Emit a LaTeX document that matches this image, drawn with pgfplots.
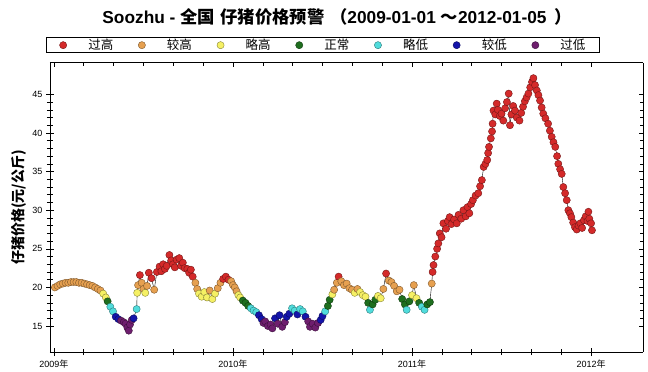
\documentclass[border=0pt]{standalone}
\usepackage{fontspec}
\setmainfont{Liberation Sans}
\newfontfamily\cjk{Noto Sans CJK SC}
\usepackage{pgfplots}
\usepackage{pgfplotstable}
\pgfplotsset{compat=1.18}
\definecolor{cA}{HTML}{D42A2A}
\definecolor{cB}{HTML}{E6A050}
\definecolor{cC}{HTML}{F5F064}
\definecolor{cD}{HTML}{1E6E1E}
\definecolor{cE}{HTML}{50DCDC}
\definecolor{cF}{HTML}{1414AA}
\definecolor{cG}{HTML}{6E1E6E}
\pgfplotstableread{
x y c
2009.005 20.0 b
2009.02 20.2 b
2009.035 20.4 b
2009.05 20.5 b
2009.065 20.6 b
2009.08 20.6 b
2009.095 20.7 b
2009.11 20.7 b
2009.125 20.7 b
2009.14 20.6 b
2009.155 20.6 b
2009.17 20.5 b
2009.185 20.4 b
2009.20 20.3 b
2009.215 20.2 b
2009.23 20.0 b
2009.245 19.8 b
2009.26 19.6 b
2009.275 19.2 c
2009.29 18.7 c
2009.30 18.2 d
2009.315 17.5 e
2009.33 16.9 e
2009.345 16.2 f
2009.36 15.9 f
2009.375 15.7 g
2009.39 15.5 g
2009.40 15.3 g
2009.41 14.8 g
2009.418 14.4 g
2009.425 15.2 g
2009.435 15.8 g
2009.445 16.0 f
2009.462 17.2 e
2009.465 19.3 c
2009.47 20.3 b
2009.48 21.6 a
2009.49 20.6 b
2009.50 19.8 b
2009.51 19.3 c
2009.52 20.2 b
2009.53 21.9 a
2009.545 21.2 a
2009.56 19.7 b
2009.575 22.0 a
2009.59 22.7 a
2009.60 22.1 a
2009.61 23.0 a
2009.62 22.4 a
2009.63 22.8 a
2009.645 24.2 a
2009.655 23.5 a
2009.665 23.0 a
2009.675 22.6 a
2009.685 23.6 a
2009.70 23.8 a
2009.71 22.8 a
2009.72 23.2 a
2009.73 22.5 a
2009.745 22.4 a
2009.755 21.9 a
2009.765 22.3 a
2009.775 21.4 a
2009.79 20.6 b
2009.80 19.8 b
2009.81 19.2 c
2009.825 18.8 c
2009.84 19.4 c
2009.855 18.7 c
2009.87 19.6 b
2009.885 18.5 c
2009.90 19.2 c
2009.915 19.9 b
2009.93 20.6 b
2009.945 21.1 a
2009.96 21.4 a
2009.975 21.0 a
2009.99 20.8 b
2010.0 20.3 b
2010.01 20.0 b
2010.02 19.5 b
2010.03 19.0 c
2010.04 18.7 c
2010.055 18.3 d
2010.07 18.0 d
2010.085 17.6 d
2010.10 17.3 e
2010.115 17.0 e
2010.13 16.8 e
2010.145 16.4 f
2010.16 15.9 f
2010.17 15.4 g
2010.18 15.6 g
2010.195 15.0 g
2010.21 15.2 g
2010.22 14.7 g
2010.235 16.0 f
2010.25 15.3 g
2010.26 16.4 f
2010.275 14.9 g
2010.29 15.5 g
2010.30 16.2 f
2010.315 16.6 f
2010.33 17.3 e
2010.345 17.0 e
2010.36 16.5 f
2010.375 17.2 e
2010.39 16.9 e
2010.405 16.2 f
2010.42 15.6 g
2010.43 14.9 g
2010.445 15.3 g
2010.46 14.8 g
2010.475 15.4 g
2010.49 15.8 f
2010.50 16.3 f
2010.515 16.9 e
2010.53 17.6 d
2010.54 18.4 d
2010.555 19.1 c
2010.565 19.7 b
2010.58 20.6 b
2010.59 21.4 a
2010.605 20.8 b
2010.62 20.3 b
2010.635 20.5 b
2010.65 19.9 b
2010.665 19.7 b
2010.68 19.3 c
2010.695 19.8 b
2010.71 19.4 c
2010.725 19.0 c
2010.74 18.8 c
2010.755 18.0 d
2010.765 17.1 e
2010.78 17.8 d
2010.795 18.4 d
2010.81 18.9 c
2010.825 18.6 c
2010.84 19.8 b
2010.855 21.8 a
2010.87 20.9 b
2010.885 20.7 b
2010.90 20.2 b
2010.915 19.5 b
2010.93 19.7 b
2010.945 18.5 d
2010.96 17.8 d
2010.97 17.1 e
2010.985 18.2 d
2011.0 19.0 c
2011.01 20.3 b
2011.025 18.6 c
2011.04 18.0 d
2011.055 17.5 e
2011.07 17.1 e
2011.085 17.8 d
2011.10 18.1 d
2011.11 20.5 b
2011.115 22.0 a
2011.12 22.9 a
2011.13 24.0 a
2011.14 25.0 a
2011.147 25.7 a
2011.155 27.0 a
2011.165 26.5 a
2011.175 28.3 a
2011.19 27.6 a
2011.20 28.6 a
2011.21 29.1 a
2011.22 28.2 a
2011.235 28.8 a
2011.25 28.3 a
2011.26 29.4 a
2011.275 28.9 a
2011.287 30.0 a
2011.30 29.2 a
2011.31 30.4 a
2011.32 29.6 a
2011.33 30.8 a
2011.34 31.3 a
2011.355 31.9 a
2011.37 32.2 a
2011.38 33.1 a
2011.39 33.9 a
2011.40 35.6 a
2011.41 36.0 a
2011.42 36.5 a
2011.425 37.4 a
2011.43 38.2 a
2011.44 39.3 a
2011.447 40.2 a
2011.45 41.2 a
2011.455 42.9 a
2011.465 42.4 a
2011.473 43.8 a
2011.48 43.0 a
2011.49 42.2 a
2011.50 42.5 a
2011.51 41.6 a
2011.52 43.2 a
2011.53 44.0 a
2011.54 45.1 a
2011.547 41.0 a
2011.555 42.4 a
2011.565 43.5 a
2011.575 42.9 a
2011.585 42.0 a
2011.60 41.6 a
2011.61 42.6 a
2011.62 43.4 a
2011.63 44.1 a
2011.64 44.6 a
2011.65 45.1 a
2011.66 45.9 a
2011.67 46.6 a
2011.678 47.1 a
2011.687 46.2 a
2011.697 45.5 a
2011.706 44.9 a
2011.715 44.2 a
2011.724 43.3 a
2011.733 42.5 a
2011.745 41.9 a
2011.76 41.2 a
2011.77 40.3 a
2011.78 39.5 a
2011.79 38.8 a
2011.80 38.2 a
2011.81 37.0 a
2011.817 36.0 a
2011.827 35.3 a
2011.836 34.7 a
2011.845 33.0 a
2011.855 32.2 a
2011.864 31.3 a
2011.873 30.0 a
2011.882 29.6 a
2011.89 29.1 a
2011.90 28.4 a
2011.91 27.8 a
2011.92 27.5 a
2011.93 28.0 a
2011.94 28.3 a
2011.95 27.7 a
2011.96 28.7 a
2011.97 29.2 a
2011.98 28.6 a
2011.985 29.8 a
2011.99 28.9 a
2012.00 28.3 a
2012.005 27.4 a
}\pricedata
\begin{document}
\begin{tikzpicture}[x=1pt,y=1pt]
\path[use as bounding box] (-50,-20) rectangle (598,352);
\begin{axis}[
  at={(0pt,0pt)}, anchor=south west,
  scale only axis, width=593pt, height=289.3pt,
  xmin=2008.978, xmax=2012.29, ymin=11.64, ymax=49.1,
  axis x line*=bottom, axis y line*=left,
  axis line style={-, line width=0.8pt},
  tick align=center,
  major tick length=8pt, minor tick length=6pt,
  every tick/.style={black, line width=0.6pt},
  xtick={2009,2010,2011,2012},
  xticklabels={2009{\cjk 年},2010{\cjk 年},2011{\cjk 年},2012{\cjk 年}},
  minor x tick num=5,
  ytick={15,20,25,30,35,40,45},
  minor y tick num=4,
  /pgf/number format/assume math mode=true,
  ticklabel style={font=\fontsize{9}{10}\selectfont},
  ylabel={\cjk\bfseries 仔猪价格(元/公斤)},
  ylabel style={at={(axis description cs:-0.0530,0.5)}, anchor=center, font=\fontsize{14}{15}\selectfont},
  legend columns=7,
  legend style={at={(0.4604,1.0335)}, anchor=south, draw=black, line width=0.6pt,
    inner xsep=13pt, inner ysep=0.5pt,
    font=\cjk\fontsize{12.5}{13}\selectfont,
    nodes={inner sep=1pt},
    /tikz/every odd column/.append style={column sep=20.5pt},
    /tikz/every even column/.append style={column sep=24pt}},
]
\addplot[forget plot, black, line width=0.4pt, no markers] table[x=x,y=y] {\pricedata};
\addplot[scatter, only marks, mark=*, mark size=3.6pt,
  scatter src=explicit symbolic,
  scatter/classes={
    a={mark=*, fill=cA, draw=cA!55!black, line width=0.4pt},
    b={mark=*, fill=cB, draw=cB!55!black, line width=0.4pt},
    c={mark=*, fill=cC, draw=cC!55!black, line width=0.4pt},
    d={mark=*, fill=cD, draw=cD!55!black, line width=0.4pt},
    e={mark=*, fill=cE, draw=cE!55!black, line width=0.4pt},
    f={mark=*, fill=cF, draw=cF!55!black, line width=0.4pt},
    g={mark=*, fill=cG, draw=cG!55!black, line width=0.4pt}}]
  table[x=x, y=y, meta=c] {\pricedata};
\legend{过高,较高,略高,正常,略低,较低,过低}
\end{axis}
\begin{axis}[
  at={(0pt,0pt)}, anchor=south west,
  scale only axis, width=593pt, height=289.3pt,
  xmin=2008.978, xmax=2012.29, ymin=11.64, ymax=49.1,
  axis x line*=top, axis y line*=right,
  axis line style={-, line width=0.8pt},
  tick align=inside,
  major tick length=4pt, minor tick length=3pt,
  every tick/.style={black, line width=0.6pt},
  xtick={2009,2010,2011,2012}, minor x tick num=5,
  ytick={15,20,25,30,35,40,45}, minor y tick num=4,
  xticklabels={}, yticklabels={},
]
\end{axis}
\node[font=\bfseries\fontsize{17.3}{19}\selectfont] at (287,335) {Soozhu - {\cjk 全国\,\,仔猪价格预警\,\,（}2009-01-01 {\cjk ～}2012-01-05 {\cjk\,）}};
\end{tikzpicture}
\end{document}
